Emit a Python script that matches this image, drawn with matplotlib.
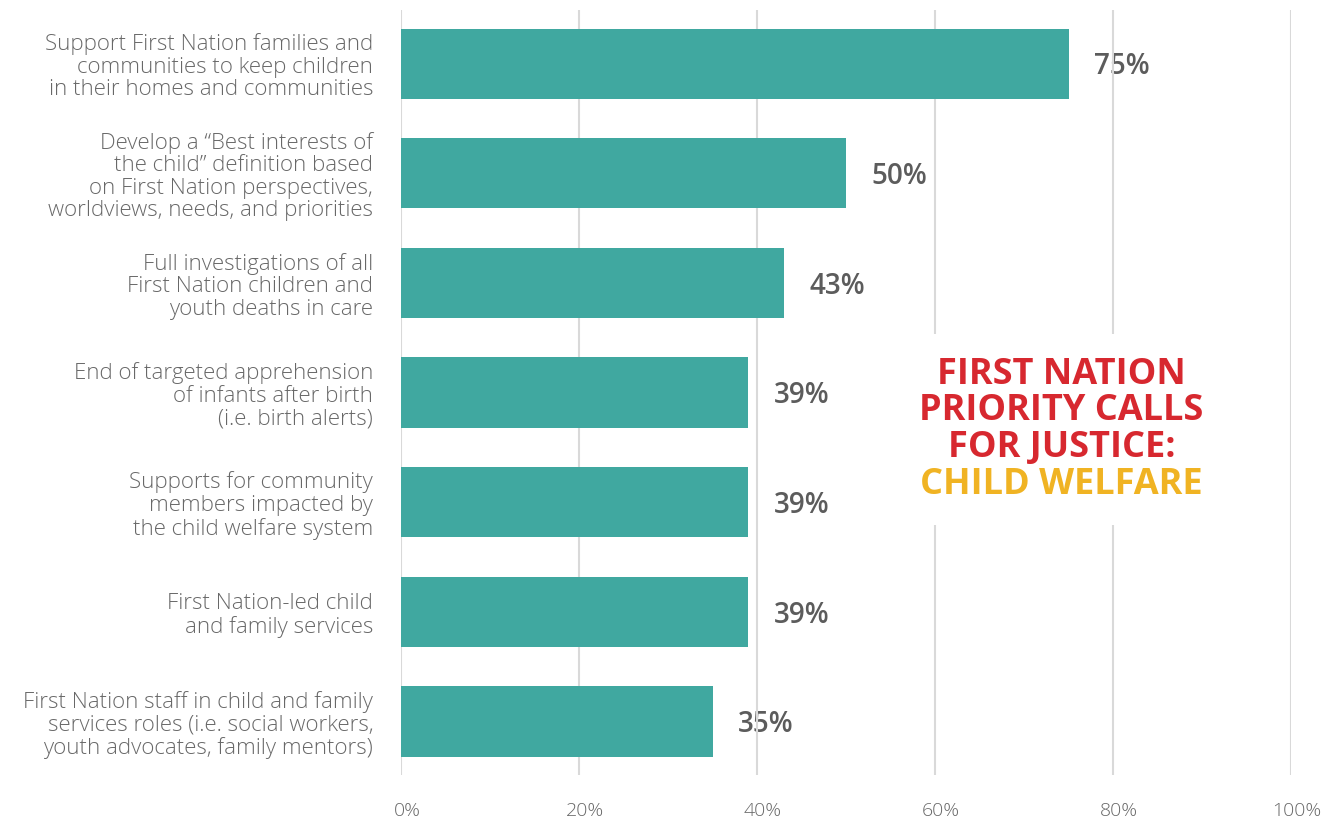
import matplotlib.pyplot as plt
from matplotlib.ticker import PercentFormatter
from matplotlib.transforms import ScaledTranslation

categories = [
    "Support First Nation families and\ncommunities to keep children\nin their homes and communities",
    "Develop a \u201cBest interests of\nthe child\u201d definition based\non First Nation perspectives,\nworldviews, needs, and priorities",
    "Full investigations of all\nFirst Nation children and\nyouth deaths in care",
    "End of targeted apprehension\nof infants after birth\n(i.e. birth alerts)",
    "Supports for community\nmembers impacted by\nthe child welfare system",
    "First Nation-led child\nand family services",
    "First Nation staff in child and family\nservices roles (i.e. social workers,\nyouth advocates, family mentors)",
]
values = [75, 50, 43, 39, 39, 39, 35]
x_ticks = [0, 20, 40, 60, 80, 100]

BAR = '#40A8A0'
GRID = '#d9d9d9'
TEXT = '#686868'
VALUE = '#5c5c5c'
RED = '#D7282F'
GOLD = '#F0B323'

plt.rcParams['font.family'] = ['Open Sans', 'DejaVu Sans']

fig = plt.figure(figsize=(13.34, 8.23), dpi=100, facecolor='white')
ax = fig.add_axes([0.3006, 0.058, 0.6672, 0.930])

pos = list(range(len(categories)))
ax.barh(pos, values, height=0.64, color=BAR, zorder=3)
ax.set_ylim(6.49, -0.49)
ax.set_xlim(0, 100)

for y, v in zip(pos, values):
    ax.text(v + 2.9, y + 0.03, f'{v}%', va='center', ha='left', fontsize=20,
            fontweight='semibold', color=VALUE, zorder=1)

ax.set_yticks(pos)
ax.set_yticklabels(categories, fontsize=16, fontweight='light', color=TEXT,
                   linespacing=1.1)
ax.tick_params(axis='y', length=0, pad=20)

ax.set_xticks(x_ticks)
ax.xaxis.set_major_formatter(PercentFormatter(decimals=0))
ax.tick_params(axis='x', length=0, pad=19, labelsize=14, labelcolor=TEXT)
shift = ScaledTranslation(6 / 100, 0, fig.dpi_scale_trans)
for lbl in ax.get_xticklabels():
    lbl.set_fontweight('light')
    lbl.set_transform(lbl.get_transform() + shift)

# gridlines sit behind the bars but over the value labels
for t in x_ticks:
    ax.axvline(t, color=GRID, lw=1.5, zorder=2)

for s in ax.spines.values():
    s.set_visible(False)

# title block on a white panel that hides the gridlines behind it
ax.text(74.2, 3.34, "FIRST NATION\nPRIORITY CALLS\nFOR JUSTICE:\n", ha='center',
        va='center', fontsize=26, fontweight='bold', color=RED,
        linespacing=1.03, zorder=5,
        bbox=dict(facecolor='white', edgecolor='none', pad=16))
ax.text(74.2, 3.34, "\n\n\nCHILD WELFARE", ha='center', va='center',
        fontsize=26, fontweight='bold', color=GOLD, linespacing=1.03, zorder=6)

plt.savefig('out.png', dpi=100, facecolor='white')
